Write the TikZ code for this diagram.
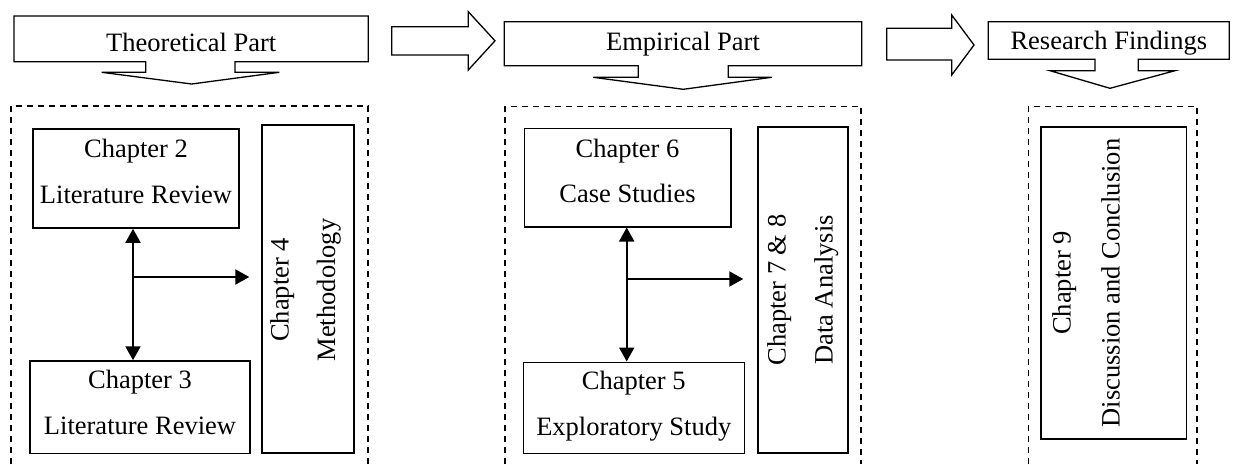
\documentclass[tikz,border=0pt]{standalone}
\usepackage{fontspec}
\setmainfont{Liberation Serif}
\usetikzlibrary{arrows.meta}
\begin{document}
\begin{tikzpicture}[x=1pt,y=-1pt,
  every node/.style={font=\fontsize{26.5}{30}\selectfont},
  chbox/.style={draw, line width=1.6pt, inner sep=0pt},
  lbl/.style={anchor=base, inner sep=0pt},
  vlbl/.style={anchor=base, inner sep=0pt, rotate=90},
  callout/.style={draw, line width=1.3pt, line join=miter},
  blockarrow/.style={draw, line width=1.3pt, line join=miter},
  group/.style={draw, line width=1.3pt, dash pattern=on 6pt off 5pt},
  link/.style={line width=2pt, -{Triangle[length=14pt,width=15pt]}},
]
\useasboundingbox (0,0) rectangle (1235,464);

% ---- part headers (down-arrow callouts) ----
\draw[callout] (14,16) -- (368.3,16) -- (368.3,61.7) -- (235,61.7) -- (235,72.3)
  -- (279.3,72.3) -- (191.7,84) -- (101.7,72.3) -- (145.7,72.3) -- (145.7,61.7)
  -- (14,61.7) -- cycle;
\node[lbl] (theo) at (191.2,51.5) {Theoretical Part};

\draw[callout] (504.3,21.7) -- (861.7,21.7) -- (861.7,65.7) -- (728.3,65.7) -- (728.3,77.3)
  -- (771.7,77.3) -- (683.3,89.3) -- (593.3,77.3) -- (638.3,77.3) -- (638.3,65.7)
  -- (504.3,65.7) -- cycle;
\node[lbl] (emp) at (683,50.6) {Empirical Part};

\draw[callout] (988.3,21.7) -- (1229.3,21.7) -- (1229.3,59.3) -- (1138.3,59.3) -- (1138.3,70.7)
  -- (1175,70.7) -- (1110,88.3) -- (1050,70.7) -- (1095,70.7) -- (1095,59.3)
  -- (988.3,59.3) -- cycle;
\node[lbl] (res) at (1108.8,49.5) {Research Findings};

% ---- block arrows between the parts ----
\draw[blockarrow] (391.7,26.7) -- (468.3,26.7) -- (468.3,11.7) -- (495,40.8)
  -- (468.3,70) -- (468.3,55) -- (391.7,55) -- cycle;
\draw[blockarrow] (886.7,28.3) -- (951.7,28.3) -- (951.7,15) -- (974,45)
  -- (951.7,75) -- (951.7,60) -- (886.7,60) -- cycle;

% ---- dashed groups (open at the bottom) ----
\draw[group] (11,464) -- (11,106) -- (368,106) -- (368,464);
\draw[group] (505,464) -- (505,106.5) -- (861,106.5) -- (861,464);
\draw[group] (1028.3,464) -- (1028.3,106.5) -- (1197,106.5) -- (1197,464);

% ---- theoretical part ----
\node[chbox, minimum width=206pt, minimum height=99pt] (ch2) at (136,178.5) {};
\node[lbl] (ch2a) at (136,157.5) {Chapter 2};
\node[lbl] (ch2b) at (136,203) {Literature Review};

\node[chbox, minimum width=220pt, minimum height=92.3pt] (ch3) at (140,407.2) {};
\node[lbl] (ch3a) at (140,388.8) {Chapter 3};
\node[lbl] (ch3b) at (140,434.6) {Literature Review};

\node[chbox, minimum width=92.3pt, minimum height=328pt] (ch4) at (307.9,289) {};
\node[vlbl] (ch4a) at (288.5,290) {Chapter 4};
\node[vlbl] (ch4b) at (335,290) {Methodology};

\coordinate (j1) at (133,277);
\coordinate (e1) at (249.3,277);
\draw[link] (j1) -- (j1 |- ch2.south);
\draw[link] (j1) -- (j1 |- ch3.north);
\draw[link] (j1) -- (e1);

% ---- empirical part ----
\node[chbox, minimum width=206.4pt, minimum height=98.4pt] (ch6) at (627.5,177.5) {};
\node[lbl] (ch6a) at (627.5,157) {Chapter 6};
\node[lbl] (ch6b) at (627.5,202) {Case Studies};

\node[chbox, minimum width=221pt, minimum height=91pt] (ch5) at (633.8,407.8) {};
\node[lbl] (ch5a) at (633.8,389) {Chapter 5};
\node[lbl] (ch5b) at (633.8,435) {Exploratory Study};

\node[chbox, minimum width=89.5pt, minimum height=325.8pt] (ch78) at (803,290) {};
\node[vlbl] (ch78a) at (785.5,290) {Chapter 7 \& 8};
\node[vlbl] (ch78b) at (832.5,290) {Data Analysis};

\coordinate (j2) at (626.7,279);
\coordinate (e2) at (743.3,279);
\draw[link] (j2) -- (j2 |- ch6.south);
\draw[link] (j2) -- (j2 |- ch5.north);
\draw[link] (j2) -- (e2);

% ---- research findings ----
\node[chbox, minimum width=145.8pt, minimum height=312.3pt] (ch9) at (1113.6,282.9) {};
\node[vlbl] (ch9a) at (1070.5,282.9) {Chapter 9};
\node[vlbl] (ch9b) at (1119.5,282.9) {Discussion and Conclusion};
\end{tikzpicture}
\end{document}
